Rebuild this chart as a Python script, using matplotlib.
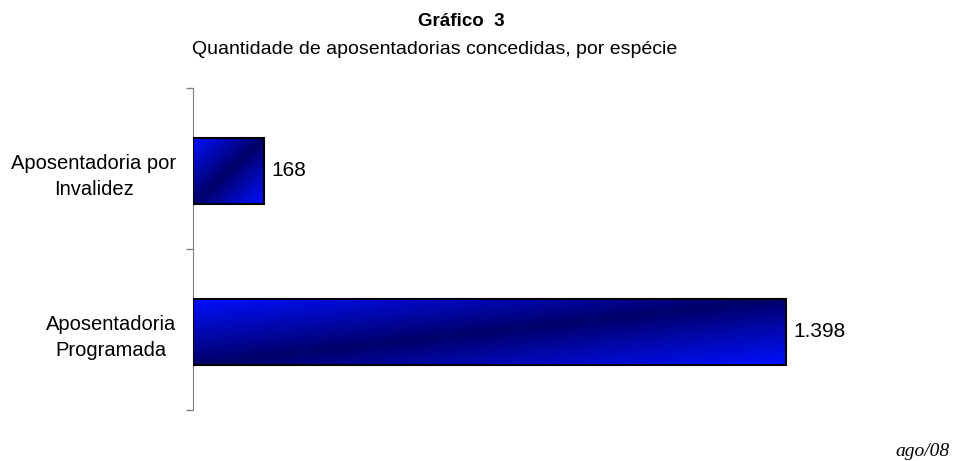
import matplotlib.pyplot as plt
import numpy as np
from matplotlib.colors import LinearSegmentedColormap

# data
categories = ["Aposentadoria\nProgramada", "Aposentadoria por\nInvalidez"]
values = [1398, 168]
value_labels = ["1.398", "168"]

plt.rcParams['font.family'] = ['Liberation Sans', 'DejaVu Sans']

fig = plt.figure(figsize=(9.55, 4.61), dpi=100)
ax = fig.add_axes([0.2021, 0.1106, 0.711, 0.6985])

ypos = np.arange(len(categories))
bars = ax.barh(ypos, values, height=0.41, color='none', edgecolor='black',
               linewidth=1.5, zorder=3)

# diagonal gradient: bright blue at top-left / bottom-right, dark navy band between
cmap = LinearSegmentedColormap.from_list(
    "bar", ["#0010ff", "#00006a", "#0010ff"])
u = np.linspace(0, 1, 200)
v = np.linspace(0, 1, 60)
U, V = np.meshgrid(u, v)
grad = (U + V) / 2

for bar in bars:
    x0, y0 = bar.get_x(), bar.get_y()
    w, h = bar.get_width(), bar.get_height()
    im = ax.imshow(grad, cmap=cmap, extent=[x0, x0 + w, y0, y0 + h],
                   aspect='auto', origin='upper', zorder=2,
                   interpolation='bilinear')
    im.set_clip_path(bar)

for bar, lab in zip(bars, value_labels):
    ax.text(bar.get_width() + 16, bar.get_y() + bar.get_height() / 2, lab,
            va='center', ha='left', fontsize=15)

# bars sit slightly below the category centres in the original
off = 0.015
ax.set_xlim(0, 1600)
ax.set_ylim(-0.5 + off, 1.5 + off)

ax.set_yticks(ypos)
ax.set_yticklabels(categories, fontsize=14.5, ha='right',
                   multialignment='center', linespacing=1.45)
ax.tick_params(axis='y', which='major', length=0, pad=12)
ax.set_yticks([-0.5 + off, 0.5 + off, 1.5 + off], minor=True)
ax.tick_params(axis='y', which='minor', length=5, color='#808080', width=1)
ax.set_xticks([])

for s in ['top', 'right', 'bottom']:
    ax.spines[s].set_visible(False)
ax.spines['left'].set_color('#808080')

fig.text(461 / 955, 1 - 21 / 461, "Gráfico  3", ha='center', va='center',
         fontsize=13.5, fontweight='bold')
fig.text(435 / 955, 1 - 49 / 461,
         "Quantidade de aposentadorias concedidas, por espécie",
         ha='center', va='center', fontsize=14)
fig.text(950 / 955, 1 - 451 / 461, "ago/08", ha='right', va='center',
         fontsize=14, style='italic', family=['Liberation Serif', 'DejaVu Serif'])

fig.savefig("out.png", dpi=100)
